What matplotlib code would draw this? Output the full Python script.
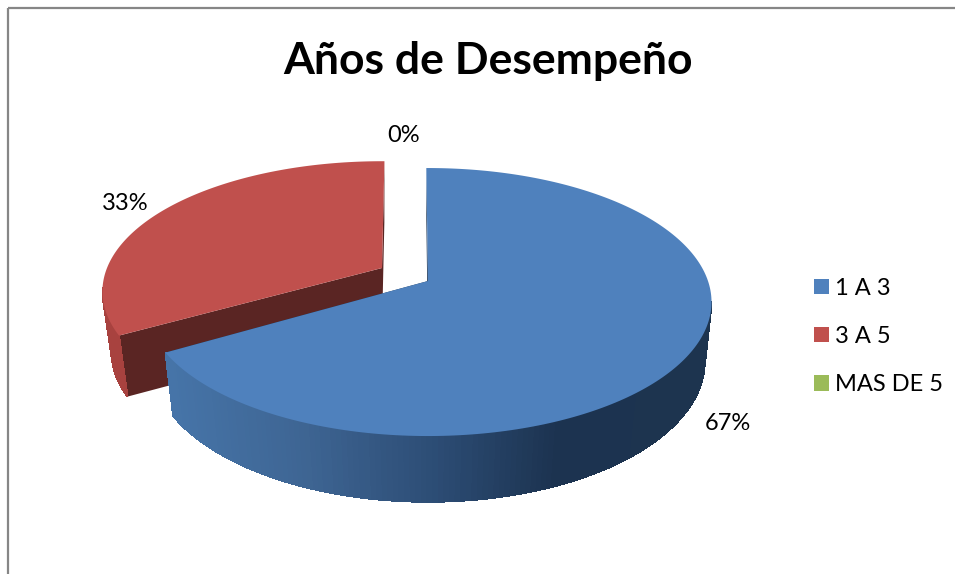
import numpy as np
import matplotlib
matplotlib.use("Agg")
import matplotlib.pyplot as plt
from matplotlib.collections import PolyCollection
from matplotlib.colors import LinearSegmentedColormap
from matplotlib.patches import Patch, Rectangle

titulo = "Años de Desempeño"
categorias = ["1 A 3", "3 A 5", "MAS DE 5"]
valores = [66.7, 33.3, 0.0]
etiquetas = ["67%", "33%", "0%"]
colores = ["#4F81BD", "#C0504D", "#9BBB59"]

plt.rcParams["font.family"] = ["Lato", "DejaVu Sans"]


def rim(t, cx, cy, rx, ry, k):
    # circulo en perspectiva
    u = np.cos(t)
    v = np.sin(t)
    w = 1 + k * v
    return cx + rx * u / w, cy - ry * v / w


def rebanada(ax, t0, t1, top, bottom, color, c_corte, c_pared, z):
    t = np.linspace(t0, t1, 240)
    xt, yt = rim(t, *top)
    xb, yb = rim(t, *bottom)
    ap = (top[0], top[1])
    ap2 = (bottom[0], bottom[1])
    # caras de corte
    ax.fill([ap[0], xt[0], xb[0], ap2[0]], [ap[1], yt[0], yb[0], ap2[1]],
            color=c_corte, lw=0, zorder=z)
    ax.fill([ap[0], xt[-1], xb[-1], ap2[0]], [ap[1], yt[-1], yb[-1], ap2[1]],
            color=c_corte, lw=0, zorder=z)
    # pared exterior, solo la parte de abajo se ve
    quads = []
    cols = []
    for i in range(len(t) - 1):
        if np.sin(t[i]) > -0.15:
            continue
        quads.append([(xt[i], yt[i]), (xt[i + 1], yt[i + 1]),
                      (xb[i + 1], yb[i + 1]), (xb[i], yb[i])])
        cols.append(c_pared((xt[i] - 168) / 544))
    ax.add_collection(PolyCollection(quads, facecolors=cols, edgecolors=cols,
                                     linewidths=0.6, antialiased=False, zorder=z + 1))
    ax.fill(np.r_[ap[0], xt], np.r_[ap[1], yt], color=color, lw=0, zorder=z + 2)


fig = plt.figure(figsize=(9.55, 5.74), dpi=100)
ax = fig.add_axes([0, 0, 1, 1])
ax.set_xlim(0, 955)
ax.set_ylim(574, 0)
ax.axis("off")

ax.add_patch(Rectangle((8, 8), 1100, 800, fill=False, ec="#868686", lw=1.6))

grados = np.radians(np.array(valores) * 3.6)

azul = LinearSegmentedColormap.from_list("azul", [(0, "#4674A8"), (0.25, "#3E6593"),
                                                  (0.5, "#2C4C74"), (0.72, "#1C3350"),
                                                  (1, "#1D344F")])
rojo = LinearSegmentedColormap.from_list("rojo", ["#A8423F", "#A8423F"])

# rebanada roja, separada del resto
t_rojo0 = np.radians(89.4)
rebanada(ax, t_rojo0, t_rojo0 + grados[1],
         (382, 268, 275, 126, 0.18), (382, 329, 266, 126, 0.18),
         colores[1], "#5A2523", rojo, 1)

# rebanada azul
t_azul0 = np.radians(90.4)
rebanada(ax, t_azul0, t_azul0 - grados[0],
         (428, 281, 280, 130.7, 0.157), (428, 341, 274, 138, 0.142),
         colores[0], "#1C3350", azul, 5)

pos_etiq = [(728, 423), (125, 203), (404, 136)]
for txt, p in zip(etiquetas, pos_etiq):
    ax.text(p[0], p[1], txt, fontsize=17, color="black", ha="center", va="center", zorder=10)

ax.text(488, 61, titulo, fontsize=32, fontweight="bold", color="black",
        ha="center", va="center", zorder=10)

handles = [Patch(facecolor=c, edgecolor="none", label=n) for c, n in zip(colores, categorias)]
ax.legend(handles=handles, loc="upper left", bbox_to_anchor=(802, 266),
          bbox_transform=ax.transData, frameon=False, fontsize=17, handlelength=0.64,
          handleheight=0.64, handletextpad=0.27, labelspacing=1.15, borderpad=0.5,
          borderaxespad=0)

fig.savefig("out.png", dpi=100)
